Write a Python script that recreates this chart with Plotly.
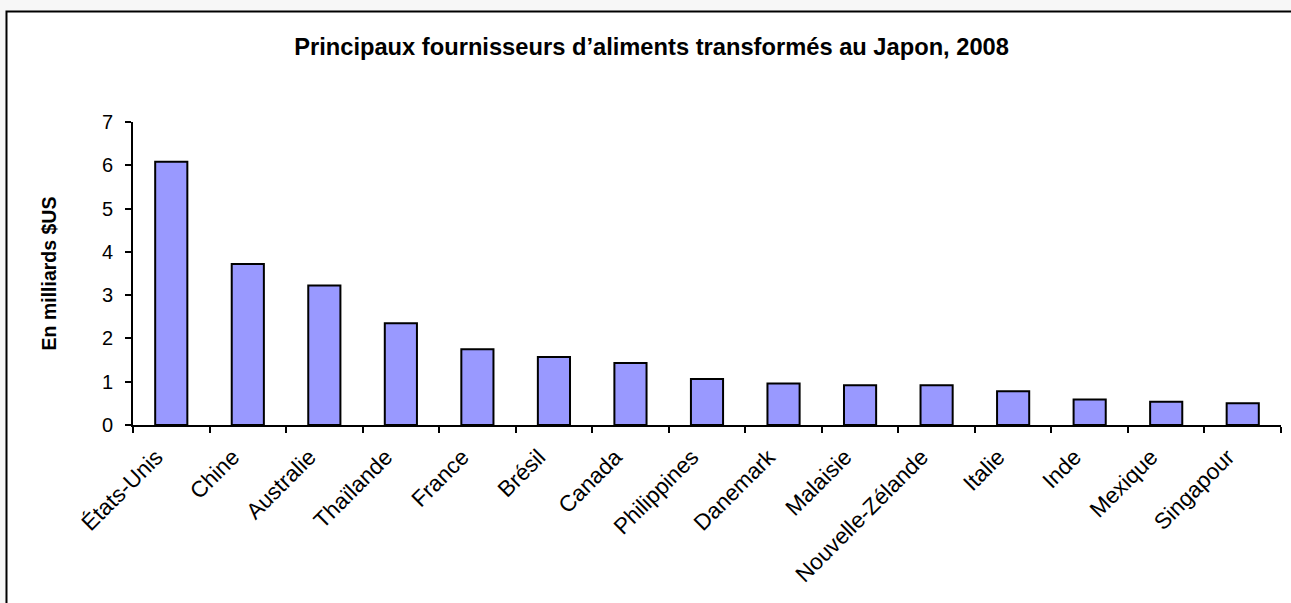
import plotly.graph_objects as go

countries = ["États-Unis", "Chine", "Australie", "Thaïlande", "France", "Brésil", "Canada",
             "Philippines", "Danemark", "Malaisie", "Nouvelle-Zélande", "Italie", "Inde",
             "Mexique", "Singapour"]
values = [6.08, 3.72, 3.22, 2.35, 1.75, 1.57, 1.43, 1.06, 0.96, 0.92, 0.92, 0.78, 0.59, 0.54, 0.50]
y_ticks = [0, 1, 2, 3, 4, 5, 6, 7]

FONT = "Liberation Sans, Arial, sans-serif"

fig = go.Figure(go.Bar(
    x=countries, y=values,
    marker=dict(color="#9999FF", line=dict(color="black", width=2)),
))

fig.update_layout(
    width=1291, height=603,
    margin=dict(l=133, r=10, t=122, b=178),
    paper_bgcolor="#f7f7f7", plot_bgcolor="white",
    bargap=0.58,
    showlegend=False,
    font=dict(family=FONT, color="black", size=18),
    title=dict(text="<b>Principaux fournisseurs d’aliments transformés au Japon, 2008</b>",
               x=0.5047, xanchor="center", y=0.922, yanchor="middle",
               font=dict(family=FONT, size=23.7, color="black")),
    xaxis=dict(
        type="category", tickangle=-45, tickson="boundaries",
        showline=True, linecolor="black", linewidth=2,
        ticks="outside", ticklen=6, tickwidth=2, tickcolor="black",
        tickfont=dict(family=FONT, size=22.5, color="black"),
        ticklabelstandoff=8, ticklabelshift=-15,
        showgrid=False, zeroline=False,
    ),
    yaxis=dict(
        range=[0, 7], tickvals=y_ticks,
        showline=True, linecolor="black", linewidth=2,
        ticks="outside", ticklen=6, tickwidth=2, tickcolor="black",
        tickfont=dict(family=FONT, size=20, color="black"),
        ticklabelstandoff=8,
        showgrid=False, zeroline=False,
        title=dict(text="<b>En milliards $US</b>", standoff=40,
                   font=dict(family=FONT, size=19.5, color="black")),
    ),
    shapes=[dict(type="rect", xref="paper", yref="paper", layer="below",
                 x0=-0.1102, x1=1.03, y0=-0.65, y1=1.3647,
                 line=dict(color="black", width=2), fillcolor="white")],
)

fig.write_html("out.html", config={"displayModeBar": False},
               post_script="document.body.style.margin='0px';document.body.style.background='#f7f7f7';")
